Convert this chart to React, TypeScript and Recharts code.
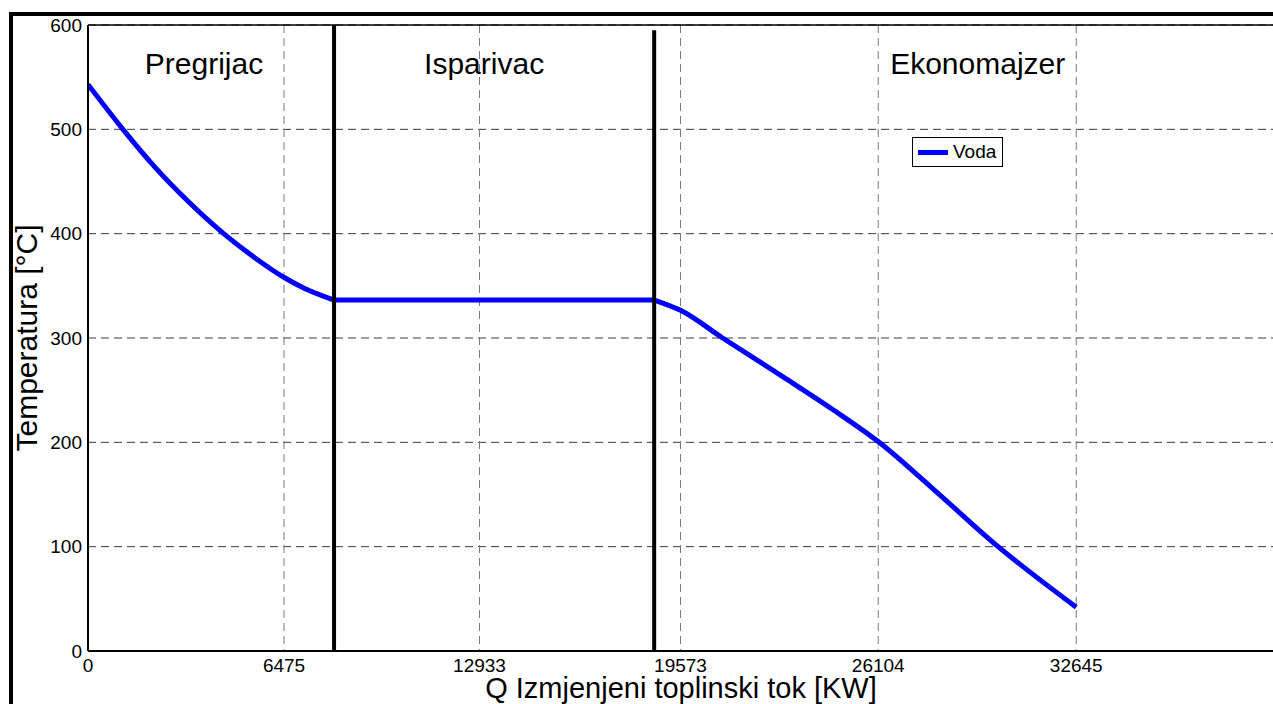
import { LineChart, Line, XAxis, YAxis, CartesianGrid, ReferenceLine, ReferenceDot, Legend } from 'recharts';

// heat flow Q [kW] and water temperature [°C] per zone
const pregrijacQ = [0, 1156, 2203, 3304, 4461, 5507, 6509, 7158, 8128];
const pregrijacT = [543, 500, 464, 431, 400.5, 377, 357.5, 347.5, 336.4];
const isparivacQ = [8128, 18702];
const isparivacT = [336.4, 336.4];
const ekonomajzerQ = [18702, 19573, 20938, 22974, 24626, 26113, 27930, 30024, 32645];
const ekonomajzerT = [336.4, 326.5, 300.5, 262.5, 231, 200.5, 155, 101, 42];

const xTicks = [0, 6475, 12933, 19573, 26104, 32645];
const yTicks = [0, 100, 200, 300, 400, 500, 600];

// boundaries between the zones and where their names sit
const zoneBounds = [8128, 18702];
const zoneNames = ['Pregrijac', 'Isparivac', 'Ekonomajzer'];
const zoneLabelQ = [3833, 13085, 29390];
const zoneLabelT = 563;

const toRows = (qs: number[], ts: number[]) => qs.map((q, i) => ({ Q: q, T: ts[i] }));
const pregrijacData = toRows(pregrijacQ, pregrijacT);
const isparivacData = toRows(isparivacQ, isparivacT);
const ekonomajzerData = toRows(ekonomajzerQ, ekonomajzerT);

const font = '"Liberation Sans", Arial, Helvetica, sans-serif';

const LegendBox = ({ payload }: any) => {
  const items = (payload || []).filter((e: any) => e.type !== 'none').slice(0, 1);
  return (
    <div
      style={{
        display: 'flex',
        flexDirection: 'column',
        boxSizing: 'border-box',
        width: 91,
        height: 30,
        border: '1px solid #000',
        background: '#fff',
        justifyContent: 'center',
      }}
    >
      {items.map((entry: any, index: number) => (
        <div key={index} style={{ display: 'flex', alignItems: 'center', paddingLeft: 5 }}>
          <span style={{ display: 'inline-block', width: 30, height: 5, background: entry.color, marginRight: 5 }} />
          <span style={{ fontSize: 19, lineHeight: '20px', color: '#000', fontFamily: font }}>{entry.value}</span>
        </div>
      ))}
    </div>
  );
};

export default function App() {
  return (
    <div
      style={{
        position: 'fixed',
        left: 0,
        top: 0,
        width: 1273,
        height: 704,
        overflow: 'hidden',
        background: '#fff',
        fontFamily: font,
      }}
    >
      <div
        style={{
          position: 'absolute',
          left: 9,
          top: 12,
          width: 1300,
          height: 720,
          borderLeft: '4px solid #000',
          borderTop: '4px solid #000',
        }}
      />
      <div style={{ position: 'absolute', left: 0, top: 0 }}>
        <LineChart width={1300} height={704} margin={{ top: 25, right: 26, bottom: 52, left: 87 }}>
          <CartesianGrid horizontal vertical={false} stroke="#3a3a3a" strokeDasharray="8 5" />
          <CartesianGrid horizontal={false} vertical stroke="#7a7a7a" strokeDasharray="8 5" />
          <XAxis
            dataKey="Q"
            type="number"
            domain={[0, 39177]}
            ticks={xTicks}
            interval={0}
            height={1}
            allowDataOverflow
            tickLine={false}
            axisLine={{ stroke: '#000', strokeWidth: 2 }}
            tick={{ fill: '#000', fontSize: 19, fontFamily: font }}
            label={{
              value: 'Q Izmjenjeni toplinski tok [KW]',
              position: 'bottom',
              offset: 25,
              style: { fontSize: 29, fill: '#000', fontFamily: font },
            }}
          />
          <YAxis
            type="number"
            domain={[0, 600]}
            ticks={yTicks}
            interval={0}
            width={1}
            tickMargin={0}
            tickLine={false}
            axisLine={{ stroke: '#000', strokeWidth: 2 }}
            tick={{ fill: '#000', fontSize: 19, fontFamily: font }}
            label={{
              value: 'Temperatura [°C]',
              angle: -90,
              position: 'left',
              offset: 61,
              style: { textAnchor: 'middle', fontSize: 30, fill: '#000', fontFamily: font },
            }}
          />
          <Legend
            layout="horizontal"
            verticalAlign="middle"
            align="center"
            wrapperStyle={{ left: 912, top: 137, width: 'auto', height: 'auto' }}
            content={<LegendBox />}
          />
          <Line
            data={pregrijacData}
            type="monotone"
            dataKey="T"
            name="Voda"
            stroke="#0000ff"
            strokeWidth={5}
            strokeLinejoin="round"
            dot={false}
            activeDot={false}
            isAnimationActive={false}
          />
          <Line
            data={isparivacData}
            type="linear"
            dataKey="T"
            name="Voda isparivac"
            legendType="none"
            stroke="#0000ff"
            strokeWidth={5}
            dot={false}
            activeDot={false}
            isAnimationActive={false}
          />
          <Line
            data={ekonomajzerData}
            type="monotone"
            dataKey="T"
            name="Voda ekonomajzer"
            legendType="none"
            stroke="#0000ff"
            strokeWidth={5}
            strokeLinejoin="round"
            dot={false}
            activeDot={false}
            isAnimationActive={false}
          />
          <ReferenceLine y={600} stroke="#000" strokeWidth={1.5} />
          <ReferenceLine x={zoneBounds[0]} stroke="#000" strokeWidth={4} />
          <ReferenceLine
            segment={[
              { x: zoneBounds[1], y: 0 },
              { x: zoneBounds[1], y: 595 },
            ]}
            stroke="#000"
            strokeWidth={4}
          />
          {zoneNames.map((name, i) => (
            <ReferenceDot
              key={name}
              x={zoneLabelQ[i]}
              y={zoneLabelT}
              r={0}
              fill="none"
              stroke="none"
              label={{ value: name, position: 'center', fontSize: 30, fill: '#000', fontFamily: font }}
            />
          ))}
        </LineChart>
      </div>
    </div>
  );
}
